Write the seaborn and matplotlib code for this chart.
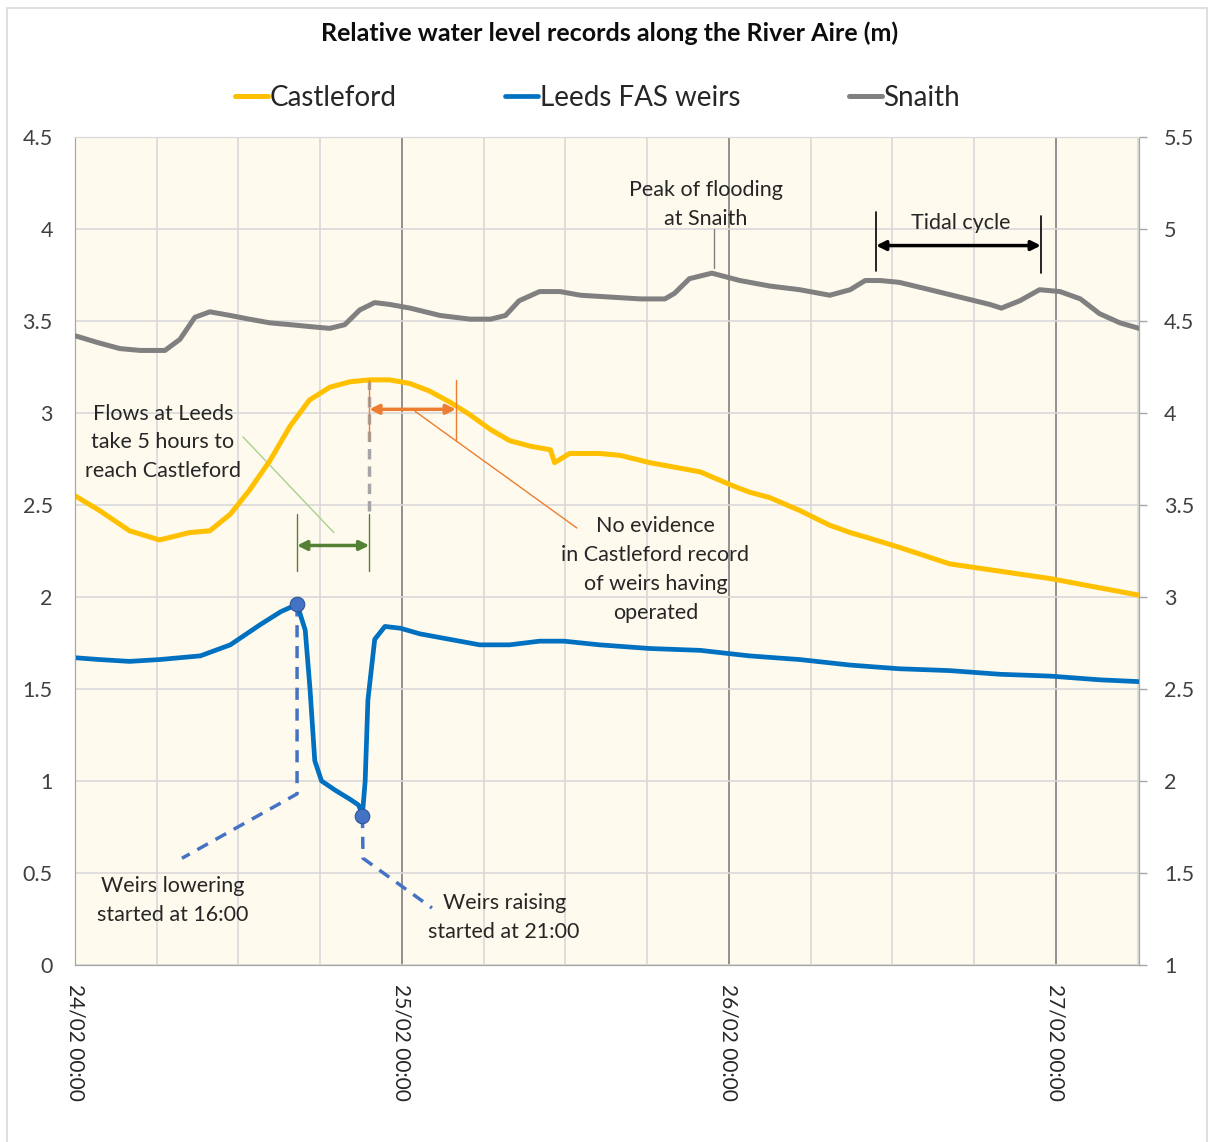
import pandas as pd
import numpy as np
import seaborn as sns
import matplotlib
matplotlib.use("Agg")
import matplotlib.pyplot as plt
from matplotlib.ticker import MultipleLocator, FuncFormatter, FixedLocator
from matplotlib.patches import Rectangle

# hours after 24/02 00:00
castleford_h = [0, 1.8, 4.0, 6.2, 8.4, 9.9, 11.4, 12.8, 14.3, 15.8, 17.2, 18.7, 20.2, 21.6,
                23.1, 24.6, 26.0, 27.5, 29.0, 30.5, 31.9, 33.4, 34.9, 35.2, 36.3, 38.5,
                40.0, 42.2, 45.9, 48.1, 49.5, 51.0, 53.2, 55.4, 56.9, 58.3, 60.5, 64.2,
                67.9, 71.6, 75.2, 78.1]
castleford_v = [2.55, 2.47, 2.36, 2.31, 2.35, 2.36, 2.45, 2.58, 2.74, 2.93, 3.07, 3.14, 3.17, 3.18,
                3.18, 3.16, 3.12, 3.06, 2.99, 2.91, 2.85, 2.82, 2.80, 2.73, 2.78, 2.78,
                2.77, 2.73, 2.68, 2.61, 2.57, 2.54, 2.47, 2.39, 2.35, 2.32, 2.27, 2.18,
                2.14, 2.10, 2.05, 2.01]

leeds_h = [0, 1.8, 4.0, 6.2, 9.2, 11.4, 13.6, 15.1, 16.3, 16.9, 17.25, 17.6, 18.1, 19.1, 20.2,
           20.8, 21.1, 21.3, 21.5, 22.0, 22.75, 23.9, 25.3, 27.5, 29.7, 31.9, 34.1, 35.9,
           38.5, 42.2, 45.9, 49.5, 53.2, 56.9, 60.5, 64.2, 67.9, 71.6, 75.2, 78.1]
leeds_v = [1.67, 1.66, 1.65, 1.66, 1.68, 1.74, 1.85, 1.92, 1.96, 1.82, 1.50, 1.11, 1.00, 0.95, 0.90,
           0.87, 0.82, 1.00, 1.44, 1.77, 1.84, 1.83, 1.80, 1.77, 1.74, 1.74, 1.76, 1.76,
           1.74, 1.72, 1.71, 1.68, 1.66, 1.63, 1.61, 1.60, 1.58, 1.57, 1.55, 1.54]

snaith_h = [0, 1.8, 3.3, 4.8, 6.6, 7.7, 8.8, 9.9, 11.4, 12.8, 14.3, 15.8, 17.2, 18.7, 19.8, 20.9,
            22.0, 23.1, 24.6, 26.8, 29.0, 30.5, 31.6, 32.6, 34.1, 35.6, 37.1, 39.3, 41.5, 43.3,
            44.0, 45.1, 46.75, 48.8, 51.0, 53.2, 55.4, 56.9, 58.0, 59.1, 60.5, 62.75, 64.95,
            67.15, 68.0, 69.35, 70.8, 72.3, 73.8, 75.2, 76.7, 78.1]
snaith_v = [4.42, 4.38, 4.35, 4.34, 4.34, 4.40, 4.52, 4.55, 4.53, 4.51, 4.49, 4.48, 4.47, 4.46, 4.48, 4.56,
            4.60, 4.59, 4.57, 4.53, 4.51, 4.51, 4.53, 4.61, 4.66, 4.66, 4.64, 4.63, 4.62, 4.62,
            4.65, 4.73, 4.76, 4.72, 4.69, 4.67, 4.64, 4.67, 4.72, 4.72, 4.71, 4.67, 4.63,
            4.59, 4.57, 4.61, 4.67, 4.66, 4.62, 4.54, 4.49, 4.46]

day_ticks = [0, 24, 48, 72]
day_labels = ["24/02 00:00", "25/02 00:00", "26/02 00:00", "27/02 00:00"]

# weir operation points (Leeds)
lower_h, lower_v = 16.3, 1.96
raise_h, raise_v = 21.1, 0.81

df_c = pd.DataFrame({"t": castleford_h, "level": castleford_v})
df_l = pd.DataFrame({"t": leeds_h, "level": leeds_v})
df_s = pd.DataFrame({"t": snaith_h, "level": snaith_v})

sns.set_style("white")
plt.rcParams["font.family"] = ["Lato", "DejaVu Sans"]

fig = plt.figure(figsize=(12.12, 11.42), dpi=100)
ax = fig.add_axes([75/1212, 177/1142, 1064/1212, 828/1142])
ax.set_facecolor("#FFFAEE")
ax2 = ax.twinx()

yellow, blue, grey = "#FFC000", "#0070C0", "#808080"

sns.lineplot(data=df_c, x="t", y="level", ax=ax, color=yellow, lw=3.6, label="Castleford", zorder=5)
sns.lineplot(data=df_l, x="t", y="level", ax=ax, color=blue, lw=3.4, label="Leeds FAS weirs", zorder=5)
sns.lineplot(data=df_s, x="t", y="level", ax=ax2, color=grey, lw=3.6, label="Snaith", zorder=5)

ax.set_xlim(0, 78.1)
ax.set_ylim(0, 4.5)
ax2.set_ylim(1, 5.5)

# grid
ax.xaxis.set_minor_locator(MultipleLocator(6))
ax.xaxis.set_major_locator(FixedLocator(day_ticks))
ax.set_xticklabels(day_labels, rotation=270, fontsize=15, color="#262626")
ax.yaxis.set_major_locator(MultipleLocator(0.5))
ax2.yaxis.set_major_locator(MultipleLocator(0.5))
fmt = FuncFormatter(lambda v, p: "{:g}".format(round(v, 2)))
ax.yaxis.set_major_formatter(fmt)
ax2.yaxis.set_major_formatter(fmt)
ax.grid(which="minor", axis="x", color="#D9D9D9", lw=1.2)
ax.grid(which="major", axis="x", color="#7F7F7F", lw=1.2)
ax.grid(which="major", axis="y", color="#D9D9D9", lw=1.2)
ax.set_axisbelow(True)
ax.tick_params(axis="x", which="both", length=0, pad=14)
ax.tick_params(axis="y", length=0, pad=16, labelsize=15.5, labelcolor="#404040")
ax2.tick_params(axis="y", length=6, width=1, color="#A6A6A6", pad=12, labelsize=15.5, labelcolor="#404040")
ax.set_xlabel("")
ax.set_ylabel("")
ax2.set_ylabel("")
for a in (ax, ax2):
    for s in a.spines.values():
        s.set_color("#A6A6A6")
    a.spines["top"].set_color("#D9D9D9")

# legend
h1, l1 = ax.get_legend_handles_labels()
h2, l2 = ax2.get_legend_handles_labels()
ax.get_legend().remove()
ax2.get_legend().remove()
fig.legend(h1 + h2, l1 + l2, loc="center", bbox_to_anchor=(0.493, 1 - 98/1142), ncol=3,
           frameon=False, fontsize=20, handlelength=1.2, handletextpad=0.05, columnspacing=3.9)

fig.text(0.503, 1 - 33/1142, "Relative water level records along the River Aire (m)",
         ha="center", va="center", fontsize=18, fontweight="bold", color="#0D0D0D")

txt = dict(fontsize=15.5, color="#262626", ha="center", va="center", linespacing=1.55, zorder=8)

# Snaith annotations
ax.text(46.3, 4.135, "Peak of flooding\nat Snaith", **txt)
ax.plot([46.9, 46.9], [3.79, 4.0], color="#808080", lw=1)
ax.text(65.0, 4.03, "Tidal cycle", **txt)
ax.plot([58.8, 58.8], [3.77, 4.09], color="black", lw=1.2)
ax.plot([70.9, 70.9], [3.76, 4.07], color="black", lw=1.2)
ax.annotate("", xy=(70.9, 3.91), xytext=(58.8, 3.91),
            arrowprops=dict(arrowstyle="<|-|>", color="black", lw=2.5, mutation_scale=14, shrinkA=0, shrinkB=0))

# Castleford: travel time and no evidence
ax.plot([21.6, 21.6], [2.47, 3.2], color="#A6A6A6", lw=2.5, ls=(0, (3, 2)), zorder=4)
ax.plot([21.6, 21.6], [2.85, 3.18], color="#ED7D31", lw=1, zorder=6)
ax.plot([27.96, 27.96], [2.85, 3.18], color="#ED7D31", lw=1, zorder=6)
ax.annotate("", xy=(27.96, 3.02), xytext=(21.6, 3.02),
            arrowprops=dict(arrowstyle="<|-|>", color="#ED7D31", lw=2.5, mutation_scale=14, shrinkA=0, shrinkB=0),
            zorder=7)
ax.plot([24.95, 36.84], [3.01, 2.375], color="#ED7D31", lw=1)
ax.text(42.6, 2.15, "No evidence\nin Castleford record\nof weirs having\noperated", **txt)

green = "#548235"
ax.plot([16.3, 16.3], [2.14, 2.45], color=green, lw=1)
ax.plot([21.6, 21.6], [2.14, 2.45], color=green, lw=1)
ax.annotate("", xy=(21.6, 2.28), xytext=(16.3, 2.28),
            arrowprops=dict(arrowstyle="<|-|>", color=green, lw=2.5, mutation_scale=14, shrinkA=0, shrinkB=0))
ax.plot([12.33, 19.0], [2.87, 2.35], color="#A9D18E", lw=1)
ax.text(6.46, 2.84, "Flows at Leeds\ntake 5 hours to\nreach Castleford", **txt)

# weir operations
dash_blue = "#4472C4"
ax.plot([lower_h, lower_h, 7.85], [lower_v, 0.93, 0.58], color=dash_blue, lw=2.5, ls=(0, (3.5, 2.5)), zorder=4)
ax.plot([raise_h, 21.14, 26.2], [raise_v, 0.58, 0.31], color=dash_blue, lw=2.5, ls=(0, (3.5, 2.5)), zorder=4)
ax.scatter([lower_h, raise_h], [lower_v, raise_v], s=110, color=dash_blue, edgecolor="#2F5597", lw=0.8, zorder=9)
ax.text(7.2, 0.35, "Weirs lowering\nstarted at 16:00", **txt)
ax.text(31.5, 0.26, "Weirs raising\nstarted at 21:00", **txt)

fig.patches.append(Rectangle((0.006, -0.01), 0.99, 1.003, transform=fig.transFigure,
                             fill=False, edgecolor="#D9D9D9", lw=1.2))

fig.savefig("out.png", dpi=100, facecolor="white")
